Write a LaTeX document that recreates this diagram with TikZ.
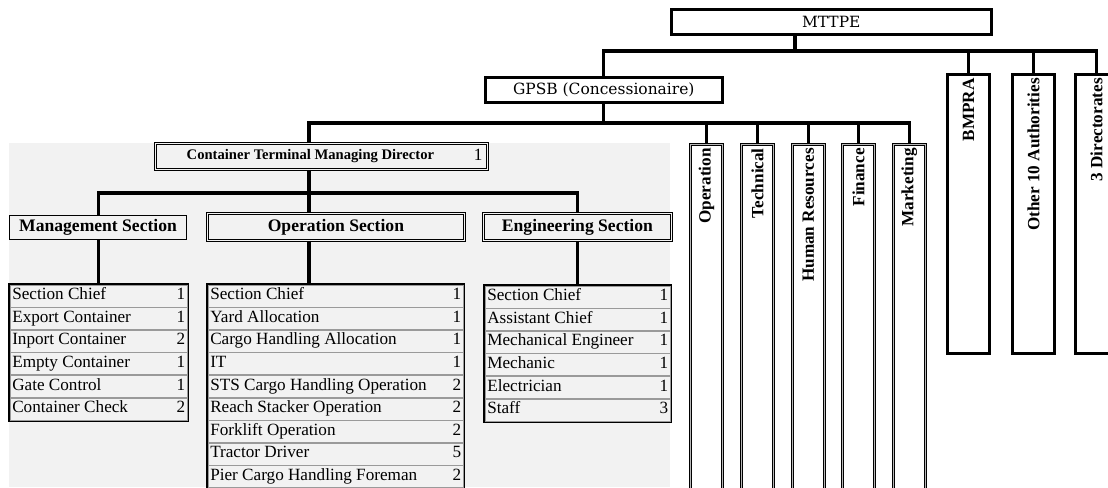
\documentclass[tikz,border=0pt]{standalone}
\usepackage{fontspec}
\setmainfont{Liberation Serif}
\newfontfamily\mincho{DejaVu Serif}
\usetikzlibrary{
		calc,
		positioning
	}
\tikzset{
		>=stealth
	}
\definecolor{panel}{HTML}{F2F2F2}
\definecolor{rule}{HTML}{9A9A9A}
\newlength{\pxu}
\setlength{\pxu}{0.025cm}
\newcommand{\rowfont}{\fontsize{12.2}{14}\selectfont}

\tikzset{
		conn/.style={line width=2.2pt},
		topbox/.style={draw, line width=1.8pt, fill=white, inner sep=0pt,
			anchor=north west, minimum height=25\pxu,
			font=\mincho\fontsize{11}{13}\selectfont},
		authbox/.style={draw, line width=2pt, fill=white, inner sep=0pt,
			anchor=north west, minimum width=42\pxu, minimum height=279\pxu},
		deptbox/.style={draw=black, double=rule!70, double distance=0.9pt,
			line width=0.6pt, fill=white, inner sep=0pt, anchor=north west,
			minimum width=32\pxu, minimum height=345\pxu},
		vlab/.style={rotate=90, anchor=east, inner sep=0pt,
			font=\bfseries\rowfont},
		secbox/.style={draw, line width=0.8pt, fill=panel, inner sep=0pt,
			anchor=north west, minimum height=24\pxu,
			font=\bfseries\fontsize{12.5}{14}\selectfont},
		secboxd/.style={secbox, line width=0.6pt, double=panel,
			double distance=1pt, minimum height=27\pxu},
		cell/.style={draw=rule, line width=1.1pt, fill=panel, inner sep=0pt,
			anchor=north west, minimum height=22.6\pxu},
		celltxt/.style={anchor=west, inner sep=3\pxu, font=\rowfont,
			text height=1.6ex, text depth=0.45ex},
		cellnum/.style={celltxt, anchor=east},
		frame/.style={draw, line width=0.8pt}
	}

\begin{document}
\begin{tikzpicture}[x=0.025cm, y=-0.025cm]
          \useasboundingbox (0,0) rectangle (1108,487);
          \clip (0,0) rectangle (1108,487);
          \fill[panel] (9,143) rectangle (670,487);

          % ministry and concessionaire
          \node[topbox, minimum width=320\pxu] (mttpe) at (670,8) {MTTPE};
          \node[topbox, minimum width=237\pxu] (gpsb) at (484,76) {GPSB (Concessionaire)};

          \node[authbox] (bmpra) at (946,73) {};
          \node[authbox] (auth) at (1011,73) {};
          \node[authbox] (dir3) at (1074,73) {};
          \node[vlab] (bmpraL) at ($(bmpra.north)+(0,5)$) {BMPRA};
          \node[vlab] (authL) at ($(auth.north)+(0,5)$) {Other 10 Authorities};
          \node[vlab] (dir3L) at ($(dir3.north)+(0,5)$) {3 Directorates};

          % GPSB departments
          \node[deptbox] (ope) at (690,144) {};
          \node[deptbox] (tec) at (741,144) {};
          \node[deptbox] (hr) at (792,144) {};
          \node[deptbox] (fin) at (842,144) {};
          \node[deptbox] (mkt) at (893,144) {};
          \node[vlab] (opeL) at ($(ope.north)+(0,4)$) {Operation};
          \node[vlab] (tecL) at ($(tec.north)+(0,4)$) {Technical};
          \node[vlab] (hrL) at ($(hr.north)+(0,4)$) {Human Resources};
          \node[vlab] (finL) at ($(fin.north)+(0,4)$) {Finance};
          \node[vlab] (mktL) at ($(mkt.north)+(0,4)$) {Marketing};

          % container terminal
          \node[secboxd, minimum width=332\pxu, minimum height=26\pxu] (ctmd) at (155,143) {};
          \node[font=\bfseries\fontsize{10.4}{12}\selectfont] (ctmdT) at ($(ctmd.center)+(-11,0)$)
               {Container Terminal Managing Director};
          \node[cellnum, inner sep=5\pxu] (ctmdN) at (ctmd.east) {1};

          \node[secbox, minimum width=177\pxu] (mgsec) at (9,215) {Management Section};
          \node[secboxd, minimum width=257\pxu] (opsec) at (207,213) {Operation Section};
          \node[secboxd, minimum width=188\pxu] (ensec) at (483,213) {Engineering Section};

          \foreach \txt/\num [count=\i] in {Section Chief/1, Export Container/1,
               Inport Container/2, Empty Container/1, Gate Control/1, Container Check/2}{
            \node[cell, minimum width=178\pxu] (mg\i) at (9,{284+(\i-1)*22.6}) {};
            \node[celltxt] (mgt\i) at (mg\i.west) {\txt};
            \node[cellnum] (mgn\i) at (mg\i.east) {\num};
          }
          \draw[frame] (mg1.north west) rectangle (mg6.south east);

          \foreach \txt/\num [count=\i] in {Section Chief/1, Yard Allocation/1,
               Cargo Handling Allocation/1, IT/1, STS Cargo Handling Operation/2,
               Reach Stacker Operation/2, Forklift Operation/2, Tractor Driver/5,
               Pier Cargo Handling Foreman/2}{
            \node[cell, minimum width=256\pxu] (op\i) at (207,{284+(\i-1)*22.6}) {};
            \node[celltxt] (opt\i) at (op\i.west) {\txt};
            \node[cellnum] (opn\i) at (op\i.east) {\num};
          }
          \draw[frame] (op1.north west) rectangle (op9.south east);

          \foreach \txt/\num [count=\i] in {Section Chief/1, Assistant Chief/1,
               Mechanical Engineer/1, Mechanic/1, Electrician/1, Staff/3}{
            \node[cell, minimum width=186\pxu] (en\i) at (484,{285+(\i-1)*22.6}) {};
            \node[celltxt] (ent\i) at (en\i.west) {\txt};
            \node[cellnum] (enn\i) at (en\i.east) {\num};
          }
          \draw[frame] (en1.north west) rectangle (en6.south east);

          % connectors
          \coordinate (bus1) at (795,51);
          \coordinate (bus2) at (309,123);
          \coordinate (bus3) at (309,193);

          \draw[conn] (mttpe.south -| bus1) -- (bus1);
          \draw[conn] (gpsb.north) |- (bus1) -| (dir3.north);
          \foreach \n in {bmpra,auth}
            \draw[conn] (\n.north) -- (\n.north |- bus1);

          \draw[conn] (gpsb.south) -- (gpsb.south |- bus2);
          \draw[conn] (ctmd.north -| bus2) -- (bus2) -| (mkt.north);
          \foreach \n in {ope,tec,hr,fin}
            \draw[conn] (\n.north) -- (\n.north |- bus2);

          \draw[conn] (ctmd.south -| bus3) -- (opsec.north -| bus3);
          \draw[conn] (mgsec.north) |- (bus3) -| (ensec.north);

          \draw[conn] (mgsec.south) -- (mgsec.south |- mg1.north);
          \draw[conn] (opsec.south -| bus3) -- (op1.north -| bus3);
          \draw[conn] (ensec.south) -- (ensec.south |- en1.north);

          \end{tikzpicture}
\end{document}
